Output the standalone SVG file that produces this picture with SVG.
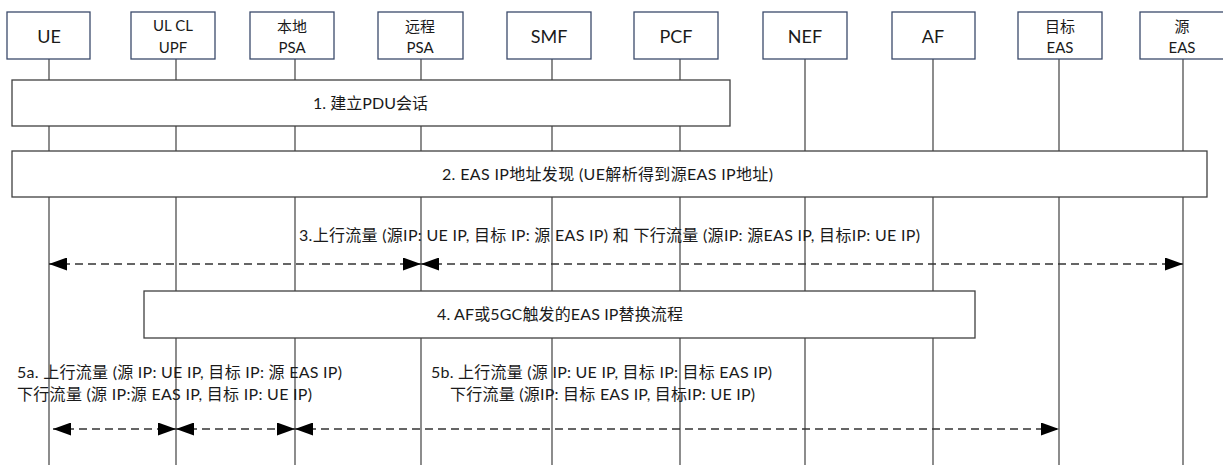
<svg xmlns="http://www.w3.org/2000/svg" width="1223" height="465" viewBox="0 0 1223 465">
<style>
.hdr{fill:#fff;stroke:#3b4a6b;stroke-width:1.3}
.life{stroke:#404040;stroke-width:1.2;fill:none}
.bar{fill:#fff;stroke:#404040;stroke-width:1.3}
.t{font-family:Lato,"Noto Sans CJK SC",sans-serif;fill:#1a1a1a}
.n1{font-size:18px;text-anchor:middle}
.n2{font-size:15px;text-anchor:middle}
.m{font-size:16px}
.c{text-anchor:middle}
.msg{stroke:#333;stroke-width:1.3;stroke-dasharray:8 5;fill:none;marker-start:url(#ah);marker-end:url(#ah)}
</style>
<defs>
<marker id="ah" viewBox="0 0 18 13" refX="18" refY="6.5" markerWidth="18" markerHeight="13" markerUnits="userSpaceOnUse" orient="auto-start-reverse"><path d="M0,0 L18,6.5 L0,13 z" fill="#000"/></marker>
</defs>
<rect width="1223" height="465" fill="#fff"/>
<g id="lifelines">
<line class="life" x1="49" y1="59" x2="49" y2="465"/>
<line class="life" x1="176" y1="59" x2="176" y2="465"/>
<line class="life" x1="295" y1="59" x2="295" y2="465"/>
<line class="life" x1="421" y1="59" x2="421" y2="465"/>
<line class="life" x1="552" y1="59" x2="552" y2="465"/>
<line class="life" x1="680" y1="59" x2="680" y2="465"/>
<line class="life" x1="805" y1="59" x2="805" y2="465"/>
<line class="life" x1="933" y1="59" x2="933" y2="465"/>
<line class="life" x1="1059" y1="59" x2="1059" y2="465"/>
<line class="life" x1="1183" y1="59" x2="1183" y2="465"/>
</g>
<g id="UE"><rect class="hdr" x="7" y="12" width="83" height="47"/><text class="t n1" x="49" y="43">UE</text></g>
<g id="ULCL_UPF"><rect class="hdr" x="131" y="12" width="84" height="47"/><text class="t n2" x="173" y="31">UL CL</text><text class="t n2" x="173" y="53">UPF</text></g>
<g id="LocalPSA"><rect class="hdr" x="250" y="12" width="84" height="47"/><text class="t n2" x="292" y="32">本地</text><text class="t n2" x="292" y="53">PSA</text></g>
<g id="RemotePSA"><rect class="hdr" x="378" y="12" width="85" height="47"/><text class="t n2" x="420" y="32">远程</text><text class="t n2" x="420" y="53">PSA</text></g>
<g id="SMF"><rect class="hdr" x="507" y="12" width="84" height="47"/><text class="t n1" x="549" y="43">SMF</text></g>
<g id="PCF"><rect class="hdr" x="634" y="12" width="84" height="47"/><text class="t n1" x="676" y="43">PCF</text></g>
<g id="NEF"><rect class="hdr" x="763" y="12" width="84" height="47"/><text class="t n1" x="805" y="43">NEF</text></g>
<g id="AF"><rect class="hdr" x="892" y="12" width="83" height="47"/><text class="t n1" x="933" y="43">AF</text></g>
<g id="TargetEAS"><rect class="hdr" x="1018" y="12" width="84" height="47"/><text class="t n2" x="1060" y="32">目标</text><text class="t n2" x="1060" y="53">EAS</text></g>
<g id="SourceEAS"><rect class="hdr" x="1140" y="12" width="84" height="47"/><text class="t n2" x="1182" y="32">源</text><text class="t n2" x="1182" y="53">EAS</text></g>
<g id="step1"><rect class="bar" x="12" y="80" width="718" height="46"/><text class="t m" x="313" y="109" textLength="115" lengthAdjust="spacing">1. 建立PDU会话</text></g>
<g id="step2"><rect class="bar" x="12" y="151" width="1195" height="46"/><text class="t m" x="442" y="180" textLength="331" lengthAdjust="spacing">2. EAS IP地址发现 (UE解析得到源EAS IP地址)</text></g>
<g id="step4"><rect class="bar" x="144" y="291" width="831" height="47"/><text class="t m" x="437" y="320" textLength="246" lengthAdjust="spacing">4. AF或5GC触发的EAS IP替换流程</text></g>
<g id="labels">
<text class="t m" x="299" y="241" textLength="621" lengthAdjust="spacing">3.上行流量 (源IP: UE IP, 目标 IP: 源 EAS IP) 和 下行流量 (源IP: 源EAS IP, 目标IP: UE IP)</text>
<text class="t m" x="17" y="378" textLength="325" lengthAdjust="spacing">5a. 上行流量 (源 IP: UE IP, 目标 IP: 源 EAS IP)</text>
<text class="t m" x="17" y="400" textLength="295" lengthAdjust="spacing">下行流量 (源 IP:源 EAS IP, 目标 IP: UE IP)</text>
<text class="t m" x="431" y="378" textLength="341" lengthAdjust="spacing">5b. 上行流量 (源 IP: UE IP, 目标 IP: 目标 EAS IP)</text>
<text class="t m" x="450" y="400" textLength="305" lengthAdjust="spacing">下行流量 (源IP: 目标 EAS IP, 目标IP: UE IP)</text>
</g>
<g id="connectors">
<line class="msg" x1="49" y1="264" x2="421" y2="264"/>
<line class="msg" x1="421" y1="264" x2="1183" y2="264"/>
<line class="msg" x1="53" y1="429" x2="176" y2="429"/>
<line class="msg" x1="176" y1="429" x2="295" y2="429"/>
<line class="msg" x1="295" y1="429" x2="1059" y2="429"/>
</g>
</svg>
